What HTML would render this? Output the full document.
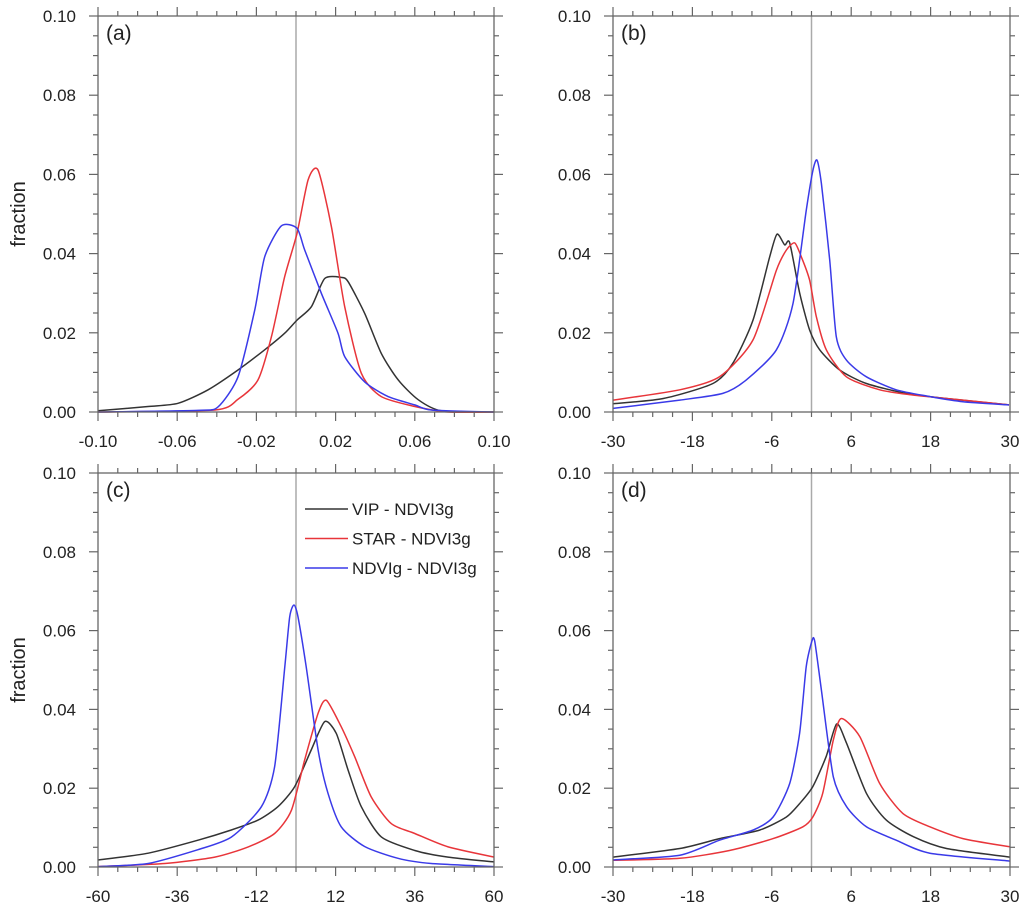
<!DOCTYPE html>
<html><head><meta charset="utf-8"><style>
html,body{margin:0;padding:0;background:#fff;}
svg{display:block;font-family:"Liberation Sans",sans-serif;}
</style></head><body>
<svg id="fig" width="1024" height="909" viewBox="0 0 1024 909"></svg>
<script>
// Panel (a)
const aBlackX=[-0.1,-0.0747,-0.0596,-0.0444,-0.0293,-0.0158,-0.0057,0.0005,0.0078,0.0145,0.0229,0.0263,0.0347,0.0431,0.0516,0.0617,0.0734,0.1];
const aBlackY=[0.0003,0.0014,0.0022,0.0056,0.0106,0.0157,0.0199,0.0232,0.0266,0.0337,0.0340,0.0329,0.0249,0.0148,0.0081,0.0031,0.0003,0];
const aRedX=[-0.1,-0.041,-0.0293,-0.0192,-0.0124,-0.0057,0.0005,0.0061,0.0111,0.0179,0.0246,0.033,0.0431,0.06,0.0768,0.1];
const aRedY=[0,0.0005,0.0032,0.0081,0.0190,0.0342,0.0451,0.0586,0.0611,0.0468,0.0266,0.0098,0.0039,0.0014,0,0];
const aBlueX=[-0.1,-0.0495,-0.0394,-0.0293,-0.0208,-0.0158,-0.0074,0.0005,0.0044,0.0128,0.0212,0.0246,0.0347,0.0465,0.06,0.0684,0.1];
const aBlueY=[0,0.0004,0.0013,0.0089,0.0258,0.0392,0.047,0.0464,0.0409,0.030,0.0199,0.0140,0.0076,0.0039,0.0018,0.0005,0];
// Panel (b)
const bBlackX=[-30,-22.4,-14.9,-11.9,-8.84,-6.32,-5.21,-4.05,-3.3,-1.79,-0.28,1.24,4.26,8.29,14.3,20.4,29.85];
const bBlackY=[0.0021,0.0034,0.0072,0.0123,0.0232,0.0392,0.0449,0.0422,0.0427,0.0300,0.0207,0.0157,0.0106,0.0072,0.0047,0.0034,0.0018];
const bRedX=[-30,-19.9,-13.9,-8.84,-5.31,-3.8,-2.54,-1.54,-0.28,0.73,2.24,5.27,10.3,15.3,22.9,29.85];
const bRedY=[0.0030,0.0056,0.0089,0.0182,0.0358,0.0409,0.0427,0.0392,0.0333,0.0241,0.0157,0.0089,0.0056,0.0043,0.0030,0.0018];
const bBlueX=[-30,-19.9,-13.4,-9.85,-5.31,-2.8,-0.78,0.23,0.83,1.49,2.75,3.75,5.27,8.29,12.8,17.9,22.9,29.85];
const bBlueY=[0.0009,0.0030,0.0047,0.0081,0.0157,0.0274,0.0510,0.0611,0.0636,0.0577,0.0384,0.0190,0.0131,0.0089,0.0056,0.0039,0.0026,0.0018];
// Panel (c)
const cBlackX=[-60,-44.8,-29.7,-19.6,-11.5,-5.5,-0.4,4.6,8.7,12.2,15.8,19.8,25.9,36,46.1,60];
const cBlackY=[0.0018,0.0035,0.0068,0.0094,0.0119,0.0153,0.0204,0.0297,0.0369,0.0339,0.0246,0.0153,0.0076,0.0042,0.0025,0.0013];
const cRedX=[-60,-39.8,-24.6,-14.5,-6.5,-1.4,2.6,6.7,9.2,13.7,17.8,22.8,28.9,36,46.1,60];
const cRedY=[0.0001,0.0009,0.0025,0.0051,0.0085,0.0144,0.0271,0.0390,0.0423,0.0356,0.0280,0.0178,0.0110,0.0085,0.0051,0.0025];
const cBlueX=[-60,-44.8,-29.7,-19.6,-10.5,-6.5,-3.4,-1.9,-0.6,0.6,3.1,6.7,9.7,13.7,20.8,30.9,41,60];
const cBlueY=[0.0001,0.0009,0.0044,0.0076,0.0153,0.0254,0.0508,0.0635,0.0665,0.0635,0.0508,0.0297,0.0187,0.0102,0.0052,0.0022,0.0009,0.0001];
// Panel (d)
const dBlackX=[-30,-19.9,-13.9,-7.8,-3.8,-1.8,0.2,2.2,3.8,5.3,8.3,11.3,15.4,20.4,30];
const dBlackY=[0.0025,0.0047,0.0072,0.0094,0.0127,0.0161,0.0204,0.0280,0.0363,0.0314,0.0187,0.0119,0.0077,0.0047,0.0025];
const dRedX=[-30,-19.9,-12.4,-5.8,-1.3,0.2,1.7,3.3,4.5,7.3,10.3,13.8,17.9,22.9,30];
const dRedY=[0.0017,0.0022,0.0042,0.0072,0.0102,0.0127,0.0187,0.0322,0.0377,0.0331,0.0212,0.0136,0.0102,0.0072,0.0051];
const dBlueX=[-30,-19.9,-13.9,-8.8,-5.8,-3.3,-1.8,-0.8,0.09,0.5,1.5,3.3,5.3,8.3,12.8,17.9,30];
const dBlueY=[0.0018,0.0030,0.0068,0.0094,0.0127,0.0212,0.0339,0.0508,0.0575,0.0572,0.0449,0.0229,0.0153,0.0102,0.0068,0.0035,0.0015];

const aTicks=["-0.10","-0.06","-0.02","0.02","0.06","0.10"];
const bTicks=["-30","-18","-6","6","18","30"];
const cTicks=["-60","-36","-12","12","36","60"];
const yTicks=["0.00","0.02","0.04","0.06","0.08","0.10"];
const legendLabels=["VIP - NDVI3g","STAR - NDVI3g","NDVIg - NDVI3g"];

const NS="http://www.w3.org/2000/svg";
const svg=document.getElementById('fig');
function mk(tag,attrs,parent){const e=document.createElementNS(NS,tag);for(const k in attrs)e.setAttribute(k,attrs[k]);(parent||svg).appendChild(e);return e;}
function smoothPath(pts){
  let d='M'+pts[0][0].toFixed(1)+','+pts[0][1].toFixed(1);
  const t=0.12;
  for(let i=0;i<pts.length-1;i++){
    const p0=pts[Math.max(0,i-1)],p1=pts[i],p2=pts[i+1],p3=pts[Math.min(pts.length-1,i+2)];
    const c1x=p1[0]+(p2[0]-p0[0])*t,c1y=p1[1]+(p2[1]-p0[1])*t;
    const c2x=p2[0]-(p3[0]-p1[0])*t,c2y=p2[1]-(p3[1]-p1[1])*t;
    d+=' C'+c1x.toFixed(1)+','+c1y.toFixed(1)+' '+c2x.toFixed(1)+','+c2y.toFixed(1)+' '+p2[0].toFixed(1)+','+p2[1].toFixed(1);
  }
  return d;
}
const colors=["#333333","#e8353a","#3a3ae8"];
const panels=[
 {id:'a',x0:98,x1:494,y0:16,y1:412,xmin:-0.1,xmax:0.1,minor:0.01,major:0.04,ticks:aTicks,series:[[aBlackX,aBlackY],[aRedX,aRedY],[aBlueX,aBlueY]]},
 {id:'b',x0:613,x1:1010,y0:16,y1:412,xmin:-30,xmax:30,minor:3,major:12,ticks:bTicks,series:[[bBlackX,bBlackY],[bRedX,bRedY],[bBlueX,bBlueY]]},
 {id:'c',x0:98,x1:494,y0:473,y1:867,xmin:-60,xmax:60,minor:6,major:24,ticks:cTicks,series:[[cBlackX,cBlackY],[cRedX,cRedY],[cBlueX,cBlueY]]},
 {id:'d',x0:613,x1:1010,y0:473,y1:867,xmin:-30,xmax:30,minor:3,major:12,ticks:bTicks,series:[[dBlackX,dBlackY],[dRedX,dRedY],[dBlueX,dBlueY]]}
];
const snames=['vip-series','star-series','ndvig-series'];
panels.forEach(p=>{
  const g=mk('g',{});
  
  
  const sx=v=>p.x0+(v-p.xmin)/(p.xmax-p.xmin)*(p.x1-p.x0);
  const sy=v=>p.y1-(v/0.1)*(p.y1-p.y0);
  const zl=mk('line',{x1:sx(0),x2:sx(0),y1:p.y0,y2:p.y1,stroke:'#aaa','stroke-width':1.5},g);
  
  
  p.series.forEach((s,i)=>{
    const pts=s[0].map((x,k)=>[sx(x),sy(s[1][k])]);
    const pa=mk('path',{d:smoothPath(pts),fill:'none',stroke:colors[i],'stroke-width':1.5,'stroke-linejoin':'round'},g);
    
    
  });
  const fr=mk('rect',{x:p.x0,y:p.y0,width:p.x1-p.x0,height:p.y1-p.y0,fill:'none',stroke:'#666','stroke-width':1.3},g);
  
  
  const nX=Math.round((p.xmax-p.xmin)/p.minor);
  for(let k=0;k<=nX;k++){
    const v=p.xmin+k*p.minor, X=sx(v);
    const isMaj=(k%Math.round(p.major/p.minor))===0;
    const L=isMaj?9:5;
    mk('line',{x1:X,x2:X,y1:p.y1,y2:p.y1+L,stroke:'#666','stroke-width':1.2},g);
    mk('line',{x1:X,x2:X,y1:p.y0,y2:p.y0-L,stroke:'#666','stroke-width':1.2},g);
  }
  p.ticks.forEach((t,k)=>{
    const v=p.xmin+k*p.major;
    const tx=mk('text',{x:sx(v),y:p.y1+35,'text-anchor':'middle','font-size':17,fill:'#222'},g);
    tx.textContent=t;
    
    
  });
  for(let k=0;k<=20;k++){
    const Y=sy(k*0.005), isMaj=k%4===0, L=isMaj?9:5;
    mk('line',{x1:p.x0,x2:p.x0-L,y1:Y,y2:Y,stroke:'#666','stroke-width':1.2},g);
    mk('line',{x1:p.x1,x2:p.x1+L,y1:Y,y2:Y,stroke:'#666','stroke-width':1.2},g);
  }
  yTicks.forEach((t,k)=>{
    const ty=mk('text',{x:p.x0-22,y:sy(k*0.02)+6,'text-anchor':'end','font-size':17,fill:'#222'},g);
    ty.textContent=t;
    
    
  });
  if(p.id==='a'||p.id==='c'){
    const cy=(p.y0+p.y1)/2;
    const yl=mk('text',{x:25,y:cy,transform:'rotate(-90 25 '+cy+')','text-anchor':'middle','font-size':20,fill:'#222'},g);
    yl.textContent='fraction';
    
    
  }
  const pl=mk('text',{x:p.x0+8,y:p.y0+24,'font-size':21,fill:'#222'},g);
  pl.textContent='('+p.id+')';
  
  
});
const lg=mk('g',{});


legendLabels.forEach((t,i)=>{
  const y=509+i*29.5;
  const ln=mk('line',{x1:305,x2:348,y1:y,y2:y,stroke:colors[i],'stroke-width':1.5},lg);
  
  
  const tx=mk('text',{x:352,y:y+6,'font-size':17,fill:'#222'},lg);
  tx.textContent=t;
  
  
});
</script>
</body></html>
